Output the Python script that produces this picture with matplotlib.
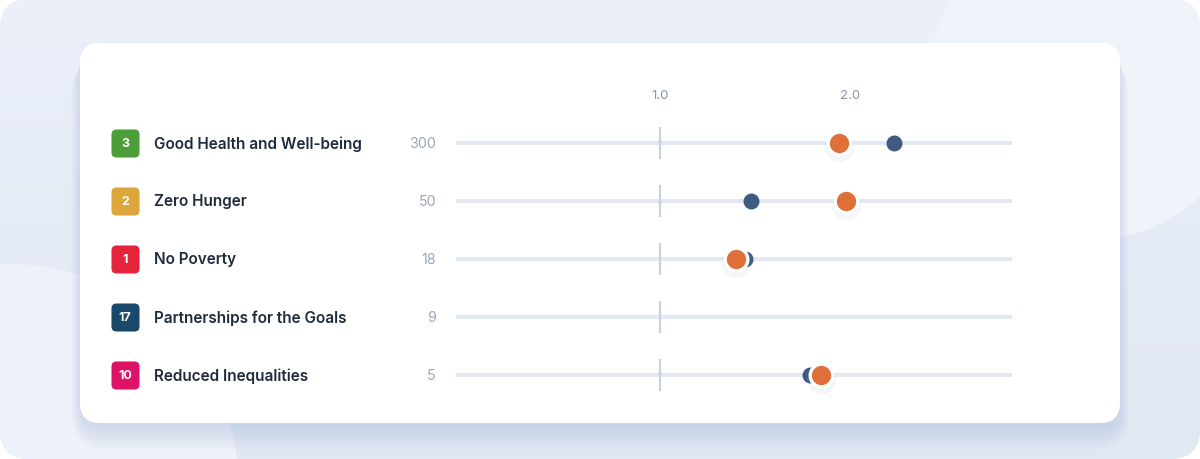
import matplotlib.pyplot as plt
import matplotlib.transforms as mtransforms
from matplotlib.patches import FancyBboxPatch, Circle
from matplotlib.markers import MarkerStyle
import numpy as np

# dados
goals = ["Good Health and Well-being", "Zero Hunger", "No Poverty",
         "Partnerships for the Goals", "Reduced Inequalities"]
sdg_numbers = ["3", "2", "1", "17", "10"]
sdg_colors = ["#4C9F38", "#DDA63A", "#E5243B", "#19486A", "#DD1367"]
counts = [300, 50, 18, 9, 5]
blue_vals = [2.23, 1.48, 1.45, np.nan, 1.79]
orange_vals = [1.94, 1.98, 1.40, np.nan, 1.85]
tick_vals = [1.0, 2.0]
tick_labels = ["1.0", "2.0"]

W, H = 1200, 460
plt.rcParams['font.family'] = ['Inter', 'DejaVu Sans']

fig = plt.figure(figsize=(W / 100, H / 100), dpi=100, facecolor="white")

# fundo em pixels
bg = fig.add_axes([0, 0, 1, 1])
bg.set_xlim(0, W)
bg.set_ylim(H, 0)
bg.axis("off")

outer = FancyBboxPatch((0, 0), W, H, boxstyle="round,pad=0,rounding_size=30",
                       facecolor="#e8eef8", edgecolor="none")
bg.add_patch(outer)
grad = np.linspace(0, 1, 200)[:, None] * np.ones((1, 10))
im = bg.imshow(grad, extent=(0, W, H, 0), cmap=plt.matplotlib.colors.LinearSegmentedColormap.from_list(
    "g", ["#ebf0f9", "#e0e8f4"]), aspect="auto", zorder=1)
im.set_clip_path(outer)
c1 = Circle((1090, 80), 161, facecolor="#eff4fb", edgecolor="none", zorder=2)
bg.add_patch(c1)
c1.set_clip_path(outer)
c2 = Circle((10, 495), 230, facecolor="#edf2fa", edgecolor="none", zorder=2)
bg.add_patch(c2)
c2.set_clip_path(outer)

# sombra do cartão
for i in range(12):
    g = i * 1.6
    sh = FancyBboxPatch((80 - g * 0.5, 44 + 6 + g * 0.6), 1040 + g, 380 + g * 0.6,
                        boxstyle=f"round,pad=0,rounding_size={20 + g}",
                        facecolor="#a9bbd6", edgecolor="none", alpha=0.03, zorder=3)
    bg.add_patch(sh)
card = FancyBboxPatch((80, 44), 1040, 380, boxstyle="round,pad=0,rounding_size=20",
                      facecolor="white", edgecolor="none", zorder=4)
bg.add_patch(card)

# eixo principal
n = len(goals)
row_px = 58
top_px, bot_px = 109, 411
ax = fig.add_axes([456 / W, 1 - bot_px / H, (1012 - 456) / W, (bot_px - top_px) / H])
ax.patch.set_alpha(0)
ax.set_xlim(1 - 204 / 190, 1 + 352 / 190)
ax.set_ylim(n - 1 + (bot_px - 376) / row_px, -(144 - top_px) / row_px)
for s in ax.spines.values():
    s.set_visible(False)
ax.set_yticks([])
ax.xaxis.tick_top()
ax.set_xticks(tick_vals)
ax.set_xticklabels(tick_labels)
ax.tick_params(axis="x", length=0, pad=5, labelsize=9.5, labelcolor="#8b95a7")

ys = np.arange(n)
xmin, xmax = ax.get_xlim()
ax.hlines(ys, xmin, xmax, color="#e3e8f1", linewidth=3, capstyle="round", zorder=1)
ax.vlines([1.0] * n, ys - 0.28, ys + 0.28, color="#c9d1de", linewidth=1.6, zorder=2)

ax.plot(blue_vals, ys, "o", ms=11.5, color="#3f5b82", mec="none", zorder=3, clip_on=False)
# sombra dos pontos laranja
ax.plot(orange_vals, ys + 0.07, "o", ms=21, color="#8090aa", alpha=0.08, mec="none",
        zorder=4, clip_on=False)
ax.plot(orange_vals, ys, "o", ms=16.3, color="#e0703a", mec="white", mew=2.4,
        zorder=5, clip_on=False)

# rótulos à esquerda
tr = mtransforms.blended_transform_factory(bg.transData, ax.transData)
rr = FancyBboxPatch((-0.5, -0.5), 1, 1, boxstyle="round,pad=0,rounding_size=0.18")
badge = MarkerStyle(rr.get_path())
for i in range(n):
    ax.plot([125], [i], marker=badge, ms=20.2, color=sdg_colors[i], mec="none",
            transform=tr, clip_on=False)
    ax.text(125, i, sdg_numbers[i], transform=tr, ha="center", va="center",
            color="white", fontsize=9, fontweight="bold")
    ax.text(154, i, goals[i], transform=tr, ha="left", va="center",
            color="#1f2a3c", fontsize=11, fontweight="semibold")
    ax.text(436, i, str(counts[i]), transform=tr, ha="right", va="center",
            color="#9aa6b8", fontsize=10.3)

fig.savefig("out.png", dpi=100, facecolor="white")
